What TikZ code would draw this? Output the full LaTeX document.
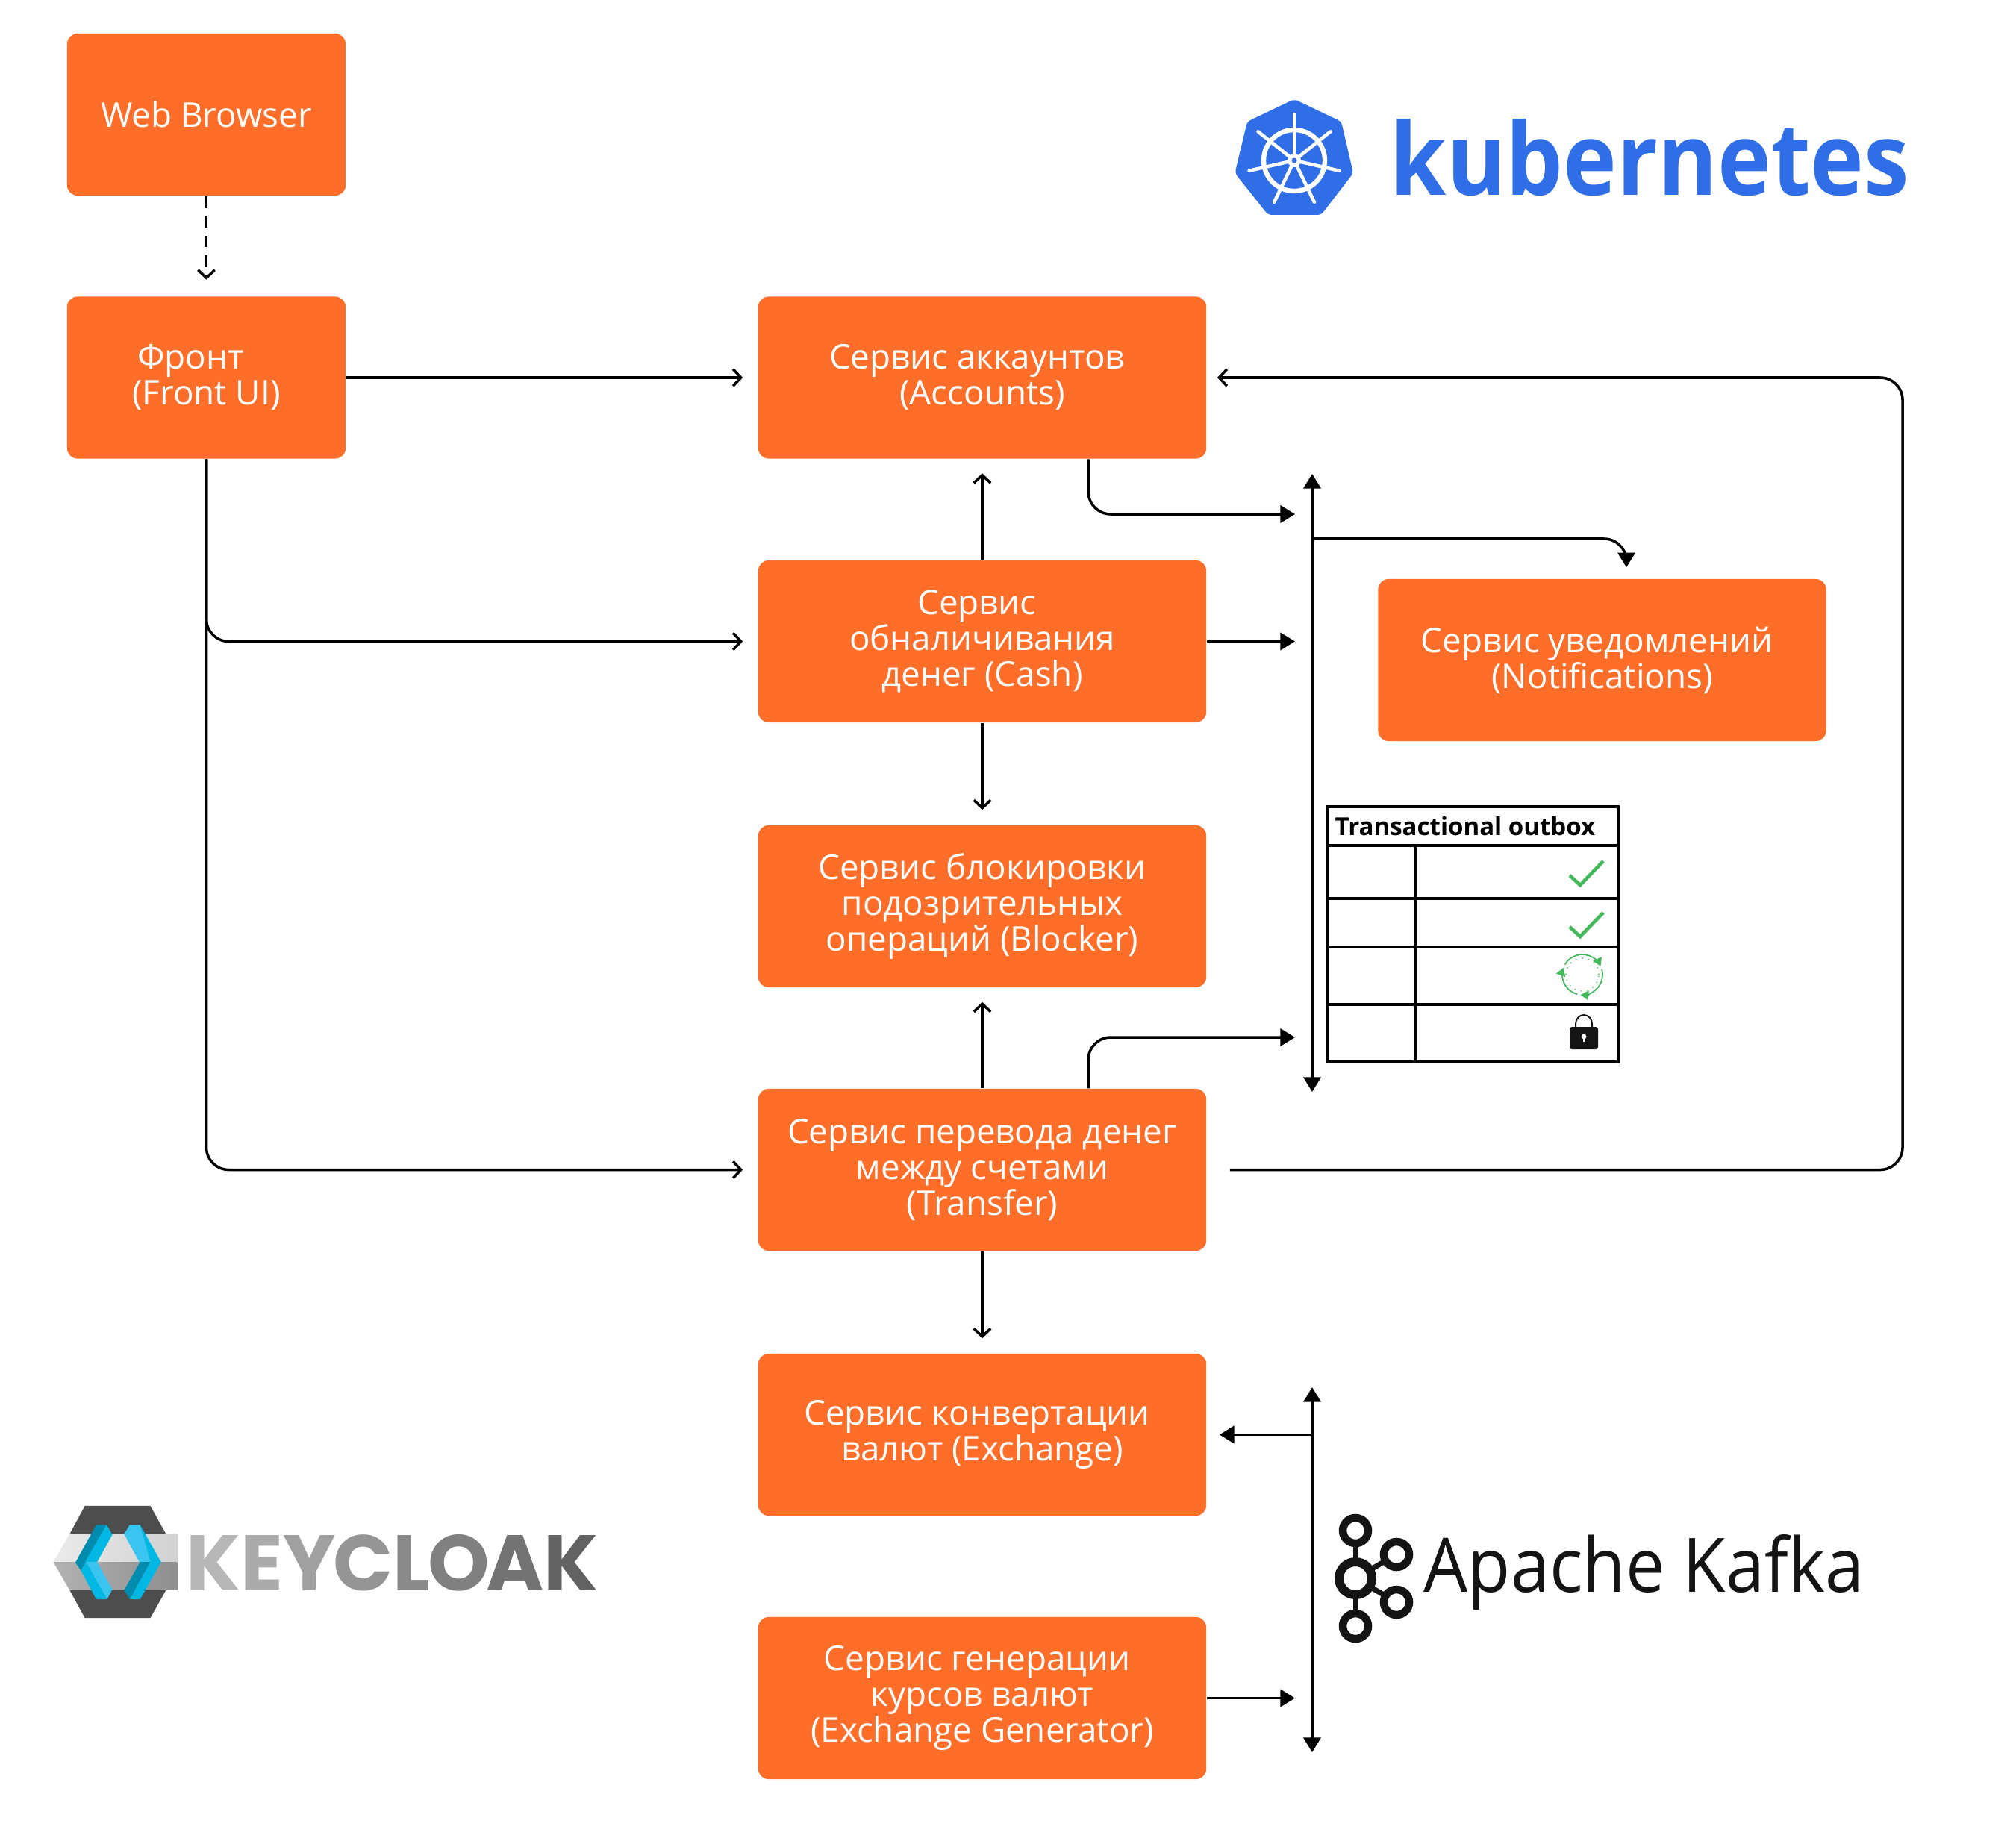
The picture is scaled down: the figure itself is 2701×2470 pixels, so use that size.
\documentclass[tikz,border=0pt]{standalone}
\usepackage{graphicx}
\usepackage{fontspec}
\setmainfont{Open Sans}
\usetikzlibrary{arrows.meta}
\definecolor{svcorange}{HTML}{FF6E28}
\definecolor{k8sblue}{HTML}{2F6EE6}
\definecolor{okgreen}{HTML}{43B95B}
\definecolor{kcdark}{HTML}{4D4D4D}
\definecolor{kcbright}{HTML}{00B8E3}
\definecolor{kcteal}{HTML}{008CAE}
\definecolor{kclight}{HTML}{39C5F0}
\definecolor{inkblack}{HTML}{141414}
\tikzset{
  box/.style={draw=none,fill=svcorange,rounded corners=.14cm,text=white,align=center,inner sep=0pt,
    font=\fontsize{13}{13.66}\selectfont},
  wide/.style={box,minimum width=6.00cm,minimum height=2.17cm},
  narrow/.style={box,minimum width=3.73cm,minimum height=2.17cm},
  link/.style={draw=black,line width=1pt},
  oarrow/.style={link,-{Straight Barb[length=3pt,width=6.4pt,line width=1pt]}},
  farrow/.style={link,-{Triangle[length=5.6pt,width=6.6pt]}},
  bus/.style={link,{Triangle[length=5.6pt,width=6.6pt]}-{Triangle[length=5.6pt,width=6.6pt]}},
  grid/.style={draw=black,line width=.9pt},
  tick/.style={draw=okgreen,line width=1.3pt},
}
\begin{document}
\begin{tikzpicture}[x=0.01cm,y=-0.01cm]
\useasboundingbox (0,0) rectangle (2701,2470);
\fill[white] (0,0) rectangle (2701,2470);

% service boxes
\node[narrow] (web) at (276.5,153.5) {Web Browser};
\node[narrow] (front) at (276.5,506) {Фронт\hspace*{12pt}\\(Front UI)};
\node[wide] (accounts) at (1316,506) {Сервис аккаунтов\hspace*{4pt}\\(Accounts)};
\node[wide] (cash) at (1316,859.5) {Сервис\hspace*{4pt}\\обналичивания\hspace*{4pt}\\денег (Cash)};
\node[wide] (blocker) at (1316,1214.5) {Сервис блокировки\\подозрительных\\операций (Blocker)};
\node[wide] (transfer) at (1316,1567.5) {Сервис перевода денег\\между счетами\\(Transfer)};
\node[wide] (exchange) at (1316,1922.5) {Сервис конвертации\hspace*{4pt}\\валют (Exchange)};
\node[wide] (generator) at (1316,2275.5) {Сервис генерации\hspace*{4pt}\\курсов валют\hspace*{4pt}\\(Exchange Generator)};
\node[wide] (notif) at (2146.5,884.5) {Сервис уведомлений\hspace*{4pt}\\(Notifications)};

% named free ends
\coordinate (busT) at (1758,635);
\coordinate (busB) at (1758,1463);
\coordinate (kbusT) at (1758,1859);
\coordinate (kbusB) at (1758,2348);
\coordinate (busA) at (1735,689);
\coordinate (busX) at (1735,1390);
\coordinate (aout) at ([xshift=1.42cm]accounts.south);
\coordinate (tout) at ([xshift=1.42cm]transfer.north);
\coordinate (nstart) at (1761,722);
\coordinate (nin) at ([xshift=.325cm,yshift=.15cm]notif.north);
\coordinate (rc) at (2549,1037);

% connectors
\draw[oarrow,dash pattern=on 4.5pt off 3pt,shorten >=.22cm] (web.south) -- (front.north);
\draw[oarrow,shorten >=.2cm] (front.east) -- (accounts.west);
\draw[oarrow,rounded corners=.3cm,shorten >=.2cm] (front.south) |- (cash.west);
\draw[oarrow,rounded corners=.3cm,shorten >=.2cm] (front.south) |- (transfer.west);
\draw[oarrow,shorten >=.19cm] (cash.north) -- (accounts.south);
\draw[oarrow,shorten >=.2cm] (cash.south) -- (blocker.north);
\draw[oarrow,shorten >=.19cm] (transfer.north) -- (blocker.south);
\draw[oarrow,shorten >=.2cm] (transfer.south) -- (exchange.north);
\draw[oarrow,rounded corners=.3cm,shorten >=.14cm,shorten <=.31cm] (transfer.east) -| (rc) |- (accounts.east);
\draw[bus] (busT) -- (busB);
\draw[bus] (kbusT) -- (kbusB);
\draw[farrow,rounded corners=.3cm] (aout) |- (busA);
\draw[farrow] (cash.east) -- (cash.east -| busA);
\draw[farrow,rounded corners=.3cm] (tout) |- (busX);
\draw[farrow,rounded corners=.3cm] (nstart) -| (nin);
\draw[farrow,shorten >=.17cm] (exchange.east -| kbusT) -- (exchange.east);
\draw[farrow] (generator.east) -- (generator.east -| busA);

% transactional outbox table
\draw[grid] (1778,1081) rectangle (2168,1423);
\draw[grid] (1778,1133) -- (2168,1133);
\draw[grid] (1778,1204) -- (2168,1204);
\draw[grid] (1778,1269) -- (2168,1269);
\draw[grid] (1778,1346) -- (2168,1346);
\draw[grid] (1896,1133) -- (1896,1423);
\node[anchor=base west,inner sep=0pt,font=\fontsize{9.4}{11}\selectfont\bfseries] (outbox) at (1788,1119) {Transactional outbox};
\draw[tick] (2103,1173) -- (2117,1186) -- (2148,1154);
\draw[tick] (2103,1242) -- (2117,1255) -- (2148,1223);
\begin{scope}[shift={(2120,1306)},x=0.01cm,y=0.01cm]
  \draw[okgreen,line width=.4pt,dotted] (0,0) circle[radius=22];
  \draw[okgreen,line width=.5pt,-{Triangle[length=3pt,width=3.6pt]}] (150:27) arc[start angle=150,end angle=25,radius=27];
  \draw[okgreen,line width=.5pt,-{Triangle[length=3pt,width=3.6pt]}] (15:27) arc[start angle=15,end angle=-95,radius=27];
  \draw[okgreen,line width=.5pt,-{Triangle[length=3pt,width=3.6pt]}] (-105:27) arc[start angle=-105,end angle=-200,radius=27];
\end{scope}
\draw[inkblack,line width=.55pt] (2111,1378) -- (2111,1372) arc[start angle=180,end angle=0,x radius=11,y radius=-12] -- (2133,1378);
\fill[inkblack,rounded corners=.03cm] (2103,1376) rectangle (2141,1406);
\fill[white] (2122,1389) circle[radius=3.4];
\fill[white] (2120.6,1389) rectangle (2123.4,1396);

% kubernetes logo
\fill[k8sblue,rounded corners=.05cm] (1734,133) -- (1797,163) -- (1813,232) -- (1770,288) -- (1699,288) -- (1654.5,232) -- (1671,163) -- cycle;
\begin{scope}[shift={(1734,215)},x=0.01cm,y=0.01cm]
  \draw[white,line width=1.8pt] (0,0) circle[radius=41];
  \foreach \a in {90,141.43,192.86,244.29,295.71,347.14,38.57}{
    \draw[white,line width=1.3pt,line cap=round] (\a:8) -- (\a:62);
  }
  \fill[white] (0,0) circle[radius=9];
  \fill[k8sblue] (0,0) circle[radius=3.5];
\end{scope}
\node[anchor=base west,inner sep=0pt,text=k8sblue,font=\bfseries] (k8s) at (1862,262) {\resizebox{6.95cm}{1.02cm}{kubernetes}};

% keycloak logo
\begin{scope}[shift={(50,1990)},x=0.0051020cm,y=-0.0033333cm]
  \fill[kcdark] (125,84) -- (297,84) -- (338,197) -- (85,197) -- cycle;
  \fill[kcdark] (85,423) -- (338,423) -- (297,535) -- (125,535) -- cycle;
  \shade[left color=white!92!black,right color=white!82!black] (85,197) -- (42,310) -- (368,310) -- (368,197) -- cycle;
  \shade[left color=white!70!black,right color=white!56!black] (42,310) -- (85,423) -- (368,423) -- (368,310) -- cycle;
  \fill[kcteal] (100,312) -- (155,160) -- (182,160) -- (115,345) -- cycle;
  \fill[kcbright] (182,160) -- (197,200) -- (157,310) -- (125,310) -- cycle;
  \fill[kclight] (128,310) -- (157,310) -- (197,420) -- (183,460) -- cycle;
  \fill[kcbright] (115,345) -- (128,310) -- (183,460) -- (155,460) -- cycle;
  \fill[kclight] (243,160) -- (270,160) -- (297,310) -- (268,310) -- (228,197) -- cycle;
  \fill[kcbright] (270,160) -- (325,310) -- (297,310) -- cycle;
  \fill[kcteal] (228,423) -- (270,310) -- (297,310) -- (243,460) -- cycle;
  \fill[kcbright] (243,460) -- (270,460) -- (325,310) -- (310,275) -- cycle;
\end{scope}
\node[anchor=base west,inner sep=0pt,font=\fontspec{Poppins}\bfseries] (kc) at (249,2131) {\resizebox{5.52cm}{.75cm}{\textcolor[HTML]{B7B7B7}{K}\textcolor[HTML]{ABABAB}{E}\textcolor[HTML]{A0A0A0}{Y}\kern-.04em\textcolor[HTML]{959595}{C}\textcolor[HTML]{8A8A8A}{L}\kern-.03em\textcolor[HTML]{808080}{O}\kern-.04em\textcolor[HTML]{737373}{A}\textcolor[HTML]{626262}{K}}};

% kafka logo
\draw[inkblack,line width=2pt] (1816,2051) -- (1816,2179);
\draw[inkblack,line width=2pt] (1871,2083) -- (1816,2115) -- (1871,2147);
\foreach \cx/\cy in {1816/2051,1816/2179,1871/2083,1871/2147}{
  \draw[inkblack,line width=3pt,fill=white] (\cx,\cy) circle[radius=17];
}
\draw[inkblack,line width=3.4pt,fill=white] (1816,2115) circle[radius=22];
\node[anchor=base west,inner sep=0pt,text=inkblack] (kafka) at (1907,2133) {\resizebox{5.89cm}{.77cm}{Apache Kafka}};
\end{tikzpicture}
\end{document}
